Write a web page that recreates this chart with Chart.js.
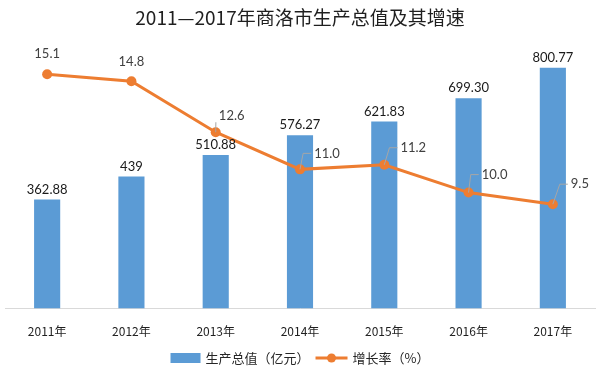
<!DOCTYPE html>
<html>
<head>
<meta charset="utf-8">
<script src="https://cdn.jsdelivr.net/npm/chart.js@4/dist/chart.umd.min.js"></script>
<style>
  html, body { margin: 0; padding: 0; background: #fff; }
  #wrap { width: 600px; height: 380px; }
</style>
</head>
<body>
<div id="wrap"><canvas id="c" width="600" height="380"></canvas></div>
<script>
const years = ["2011年", "2012年", "2013年", "2014年", "2015年", "2016年", "2017年"];
const gdp = [362.88, 439, 510.88, 576.27, 621.83, 699.3, 800.77];
const gdpText = ["362.88", "439", "510.88", "576.27", "621.83", "699.30", "800.77"];
const growth = [15.1, 14.8, 12.6, 11.0, 11.2, 10.0, 9.5];

const BLUE = "#5B9BD5";
const ORANGE = "#ED7D31";
const numFont = "13px Lato, 'Noto Sans', sans-serif";
const cjk = "'Noto Sans CJK SC', sans-serif";

// where each growth label sits relative to its point (leader line when offset sideways)
const growthOffsets = [[0, -20], [0, -19], [16, -16], [27, -16], [29, -17], [26, -18], [27, -20]];

const labelPlugin = {
  id: "labels",
  afterDatasetsDraw(chart) {
    const ctx = chart.ctx;
    ctx.save();
    ctx.font = numFont;
    ctx.textAlign = "center";
    ctx.textBaseline = "middle";

    // bar values (dataset 1)
    chart.getDatasetMeta(1).data.forEach((bar, i) => {
      ctx.fillStyle = "#1a1a1a";
      ctx.fillText(gdpText[i], bar.x, bar.y - 10);
    });

    // growth values (dataset 0)
    chart.getDatasetMeta(0).data.forEach((pt, i) => {
      const [dx, dy] = growthOffsets[i];
      const tx = pt.x + dx;
      const ty = pt.y + dy;
      if (dx > 0) {
        const tw = ctx.measureText(growth[i].toFixed(1)).width;
        const left = tx - tw / 2 - 3;
        ctx.strokeStyle = "#a6a6a6";
        ctx.lineWidth = 1;
        ctx.beginPath();
        ctx.moveTo(pt.x, pt.y);
        if (left - 8 > pt.x) {
          ctx.lineTo(left - 8, ty);
          ctx.lineTo(left, ty);
        } else {
          ctx.lineTo(left, ty + 6);
        }
        ctx.stroke();
      }
      ctx.fillStyle = "#404040";
      ctx.fillText(growth[i].toFixed(1), tx, ty);
    });
    ctx.restore();
  },
  afterDraw(chart) {
    // legend
    const ctx = chart.ctx;
    const y = 358;
    ctx.save();
    ctx.font = "13px " + cjk;
    ctx.textBaseline = "middle";
    const t1 = "生产总值（亿元）";
    const t2 = "增长率（%）";
    const w1 = ctx.measureText(t1).width;
    const w2 = ctx.measureText(t2).width;
    const total = 30 + 5 + w1 + 6 + 32 + 5 + w2;
    let x = 300 - total / 2;
    ctx.fillStyle = BLUE;
    ctx.fillRect(x, y - 5, 30, 10);
    x += 35;
    ctx.fillStyle = "#262626";
    ctx.fillText(t1, x, y);
    x += w1 + 6;
    ctx.strokeStyle = ORANGE;
    ctx.lineWidth = 3;
    ctx.beginPath();
    ctx.moveTo(x, y);
    ctx.lineTo(x + 32, y);
    ctx.stroke();
    ctx.fillStyle = ORANGE;
    ctx.beginPath();
    ctx.arc(x + 16, y, 4.5, 0, 2 * Math.PI);
    ctx.fill();
    x += 37;
    ctx.fillStyle = "#262626";
    ctx.fillText(t2, x, y);
    ctx.restore();
  },
};

new Chart(document.getElementById("c"), {
  data: {
    labels: years,
    datasets: [
      {
        type: "line",
        label: "增长率（%）",
        data: growth,
        yAxisID: "y1",
        borderColor: ORANGE,
        backgroundColor: ORANGE,
        borderWidth: 3,
        pointRadius: 5,
        pointBackgroundColor: ORANGE,
        pointBorderWidth: 0,
        tension: 0,
        order: 0,
      },
      {
        type: "bar",
        label: "生产总值（亿元）",
        data: gdp,
        yAxisID: "y",
        backgroundColor: BLUE,
        categoryPercentage: 1,
        barPercentage: 0.31,
        order: 1,
      },
    ],
  },
  options: {
    responsive: false,
    animation: false,
    layout: { padding: { left: 4, right: 4, top: 0, bottom: 33 } },
    plugins: {
      legend: { display: false },
      tooltip: { enabled: false },
      title: {
        display: true,
        text: "2011—2017年商洛市生产总值及其增速",
        color: "#1f1f1f",
        font: { family: cjk, size: 19, weight: "normal" },
        padding: { top: 6, bottom: 9 },
      },
    },
    scales: {
      x: {
        grid: { display: false },
        border: { display: true, color: "#d9d9d9", width: 1 },
        ticks: {
          color: "#1f1f1f",
          font: { family: cjk, size: 12 },
          padding: 8,
          maxRotation: 0,
        },
      },
      y: { display: false, min: 0, max: 900 },
      y1: { display: false, position: "right", min: 5, max: 16.67 },
    },
  },
  plugins: [labelPlugin],
});
</script>
</body>
</html>
